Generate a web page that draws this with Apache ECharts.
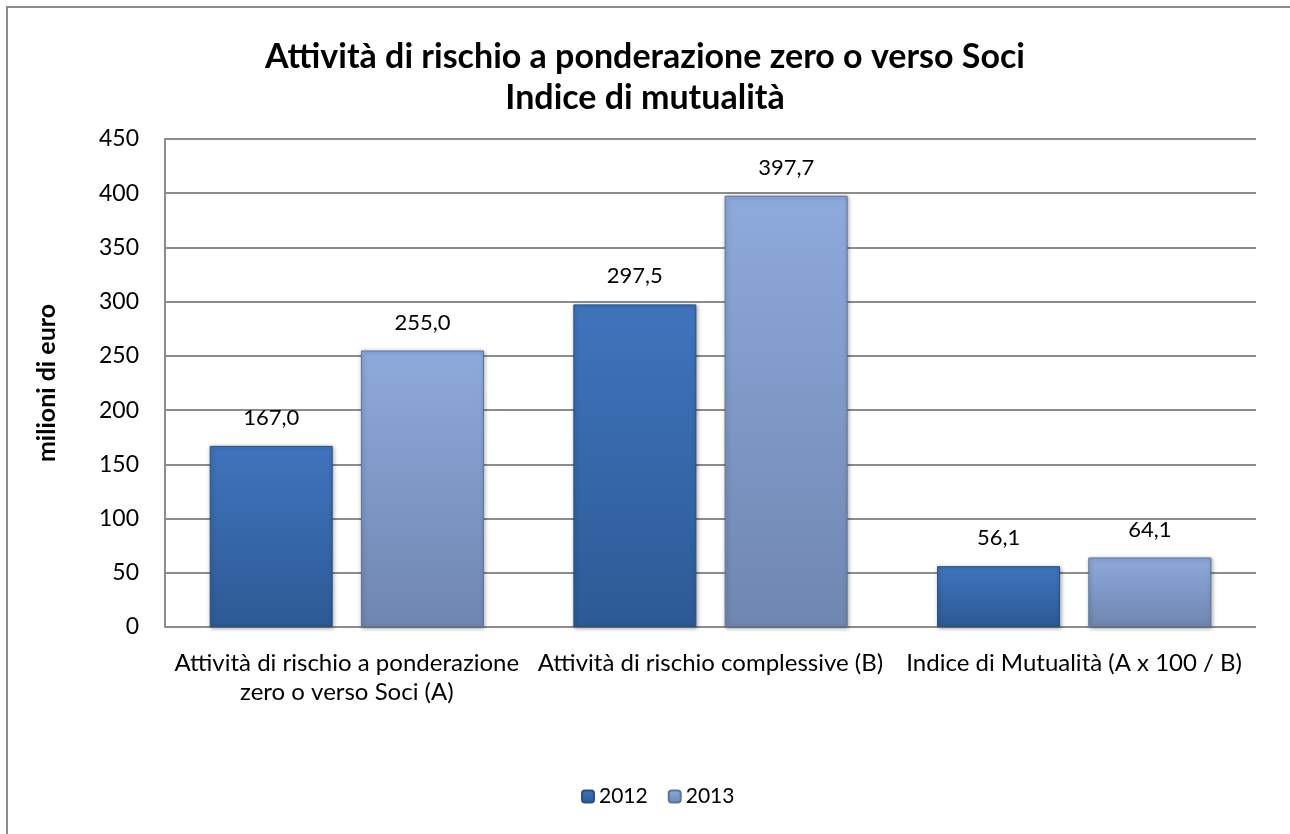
<!DOCTYPE html>
<html>
<head>
<meta charset="utf-8">
<script src="https://cdn.jsdelivr.net/npm/echarts@6/dist/echarts.min.js"></script>
<style>
  html, body { margin: 0; padding: 0; background: #ffffff; }
  #chart { width: 1290px; height: 834px; }
</style>
</head>
<body>
<div id="chart"></div>
<script>
// Categories (axis labels, wrapped onto two lines where needed)
const categories = [
  'Attività di rischio a ponderazione\nzero o verso Soci (A)',
  'Attività di rischio complessive (B)',
  'Indice di Mutualità (A x 100 / B)'
];
const seriesNames = ['2012', '2013'];
const values2012 = [167.0, 297.5, 56.1];
const values2013 = [255.0, 397.7, 64.1];
const yTicks = { min: 0, max: 450, interval: 50 };

const FONT = 'Lato, "Open Sans", sans-serif';

function fillFor(top, bottom) {
  return new echarts.graphic.LinearGradient(0, 0, 0, 1, [
    { offset: 0, color: top },
    { offset: 1, color: bottom }
  ]);
}

const fmt = p => p.value.toFixed(1).replace('.', ',');

const chart = echarts.init(document.getElementById('chart'), null, { renderer: 'canvas' });
chart.setOption({
  animation: false,
  backgroundColor: '#ffffff',
  graphic: [{
    type: 'rect',
    shape: { x: 7, y: 7, width: 1320, height: 900 },
    style: { fill: 'none', stroke: '#8c8c8c', lineWidth: 2 },
    silent: true,
    z: -1
  }],
  title: {
    text: 'Attività di rischio a ponderazione zero o verso Soci\nIndice di mutualità',
    left: 'center',
    top: 32,
    textStyle: { fontFamily: FONT, fontWeight: 'bold', fontSize: 34, color: '#000', lineHeight: 41 }
  },
  legend: {
    bottom: 22,
    left: 576,
    itemWidth: 12,
    itemHeight: 12,
    itemGap: 20,
    textStyle: { fontFamily: FONT, fontSize: 21, color: '#000' },
    data: seriesNames
  },
  grid: { left: 165, right: 34, top: 139, bottom: 207, containLabel: false },
  xAxis: {
    type: 'category',
    data: categories,
    axisLine: { show: false },
    axisTick: { show: false },
    axisLabel: {
      interval: 0,
      margin: 22,
      fontFamily: FONT,
      fontSize: 24,
      color: '#000',
      lineHeight: 29
    }
  },
  yAxis: {
    type: 'value',
    min: yTicks.min,
    max: yTicks.max,
    interval: yTicks.interval,
    name: 'milioni di euro',
    nameLocation: 'middle',
    nameGap: 106,
    nameTextStyle: { fontFamily: FONT, fontWeight: 'bold', fontSize: 25, color: '#000' },
    axisLine: { show: true, lineStyle: { color: '#8c8c8c', width: 2 } },
    axisTick: { show: false },
    axisLabel: { fontFamily: FONT, fontSize: 23, color: '#000', margin: 26 },
    splitLine: { show: true, lineStyle: { color: '#8c8c8c', width: 2 } }
  },
  series: [
    {
      name: seriesNames[0],
      type: 'bar',
      data: values2012,
      barWidth: 123,
      barGap: '23%',
      itemStyle: {
        color: fillFor('#3f74bd', '#2c5a95'),
        borderColor: '#2a4f80',
        borderWidth: 1,
        shadowColor: 'rgba(0,0,0,0.35)',
        shadowBlur: 4,
        shadowOffsetX: 1,
        shadowOffsetY: 1
      },
      label: {
        show: true, position: 'top', distance: 17, formatter: fmt,
        fontFamily: FONT, fontSize: 22, color: '#000'
      }
    },
    {
      name: seriesNames[1],
      type: 'bar',
      data: values2013,
      barWidth: 123,
      itemStyle: {
        color: fillFor('#8eaadc', '#6f86b0'),
        borderColor: '#5f7499',
        borderWidth: 1,
        shadowColor: 'rgba(0,0,0,0.35)',
        shadowBlur: 4,
        shadowOffsetX: 1,
        shadowOffsetY: 1
      },
      label: {
        show: true, position: 'top', distance: 17, formatter: fmt,
        fontFamily: FONT, fontSize: 22, color: '#000'
      }
    }
  ]
});
</script>
</body>
</html>
